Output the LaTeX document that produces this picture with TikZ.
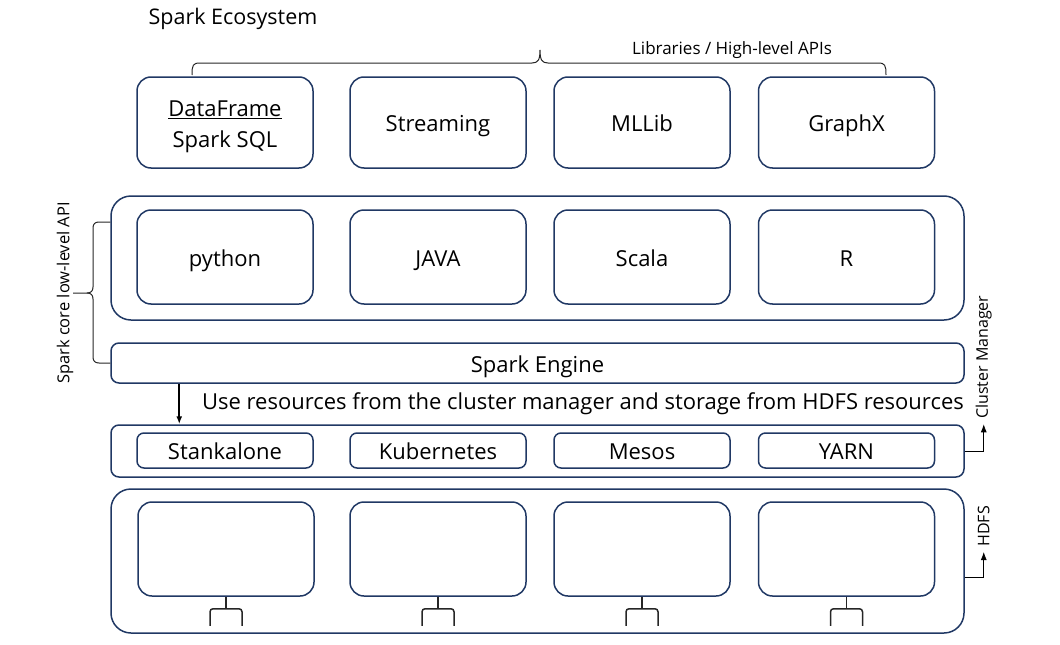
\documentclass[tikz,border=0pt]{standalone}
\usepackage{fontspec}
\setmainfont{Open Sans}
\usetikzlibrary{arrows,arrows.meta,positioning,calc}
\definecolor{boxblue}{HTML}{203864}

\begin{document}
\begin{tikzpicture}[x=1pt, y=-1pt,
    box/.style={draw=boxblue, line width=1.5pt, rectangle, rounded corners=14pt, minimum width=176pt, minimum height=91pt, font=\fontsize{22}{31}\selectfont, align=center, inner sep=0pt},
    word/.style={text height=19pt, text depth=1pt},
    layer/.style={draw=boxblue, line width=1.5pt, rectangle, rounded corners=20pt, minimum width=853pt, inner sep=0pt},
    smallbox/.style={box, word, rounded corners=7pt, minimum height=35pt},
    bracket/.style={draw=black!85, line width=1pt},
    arrowtip/.style={-{Latex[length=8pt, width=6pt]}},
    label/.style={font=\fontsize{16}{19}\selectfont, inner sep=0pt}]
    \useasboundingbox (0,0) rectangle (1060,645);

    \node (title) [font=\fontsize{21.5}{25}\selectfont, inner sep=0pt] at (233,19) {Spark Ecosystem};

    % libraries
    \node (sql) [box] at (225,122.5) {};
    \node (sqltext) [font=\fontsize{22}{31}\selectfont, align=center, inner sep=0pt] at (225,126.5) {\underline{DataFrame}\\Spark SQL};
    \node (streaming) [box, word] at (438,122.5) {Streaming};
    \node (mllib) [box, word] at (642,122.5) {MLLib};
    \node (graphx) [box, word] at (846.5,122.5) {GraphX};
    \draw [bracket] (192,75) .. controls (192,65) and (193,63) .. (200,63) -- (532,63) .. controls (538,63) and (540,60) .. (540,50)
        .. controls (540,60) and (542,63) .. (548,63) -- (878,63) .. controls (885,63) and (886,65) .. (886,75);
    \node (libs) [label, font=\fontsize{17}{20}\selectfont] at (732,50) {Libraries / High-level APIs};

    % core
    \node (core) [layer, minimum height=124pt] at (537.5,258) {};
    \node (python) [box, word, minimum height=94pt] at (225,257) {python};
    \node (java) [box, word, minimum height=94pt] at (438,257) {JAVA};
    \node (scala) [box, word, minimum height=94pt] at (642,257) {Scala};
    \node (r) [box, word, minimum height=94pt] at (846.5,257) {R};
    \node (engine) [layer, word, rounded corners=8pt, minimum height=40pt, font=\fontsize{22}{26}\selectfont] at (537.5,363) {Spark Engine};
    \draw [bracket] (core.west |- 0,222) -- (99,222) .. controls (95,222) and (93,224) .. (93,228) -- (93,287) .. controls (93,291) and (91,293) .. (87,293) -- (73,293);
    \draw [bracket] (engine.west) -- (99,363) .. controls (95,363) and (93,361) .. (93,357) -- (93,299) .. controls (93,295) and (91,293) .. (87,293);
    \node (lowlevel) [label, rotate=90, font=\fontsize{16.5}{19}\selectfont] at (65,293) {Spark core low-level API};

    % cluster manager
    \node (use) [font=\fontsize{22}{26}\selectfont, inner sep=0pt] at (583,404) {Use resources from the cluster manager and storage from HDFS resources};
    \node (cluster) [layer, rounded corners=8pt, minimum height=52pt] at (537.5,451) {};
    \node (standalone) [smallbox] at (225,450.5) {Stankalone};
    \node (kubernetes) [smallbox] at (438,450.5) {Kubernetes};
    \node (mesos) [smallbox] at (642,450.5) {Mesos};
    \node (yarn) [smallbox] at (846.5,450.5) {YARN};
    \draw [arrowtip, line width=1.8pt] ([xshift=69pt]engine.south west) -- ([xshift=69pt]cluster.north west);
    \draw [arrowtip, line width=0.8pt] (cluster.east) -- ++(19,0) -- ([xshift=19pt]cluster.north east) node (cm) [label, rotate=90, anchor=west, xshift=5pt] {Cluster Manager};

    % hdfs
    \node (hdfs) [layer, minimum height=144pt] at (537.5,561) {};
    \foreach \name/\x in {hdfsa/226, hdfsb/438, hdfsc/642, hdfsd/846.5} {
        \node (\name) [box, minimum height=94pt] at (\x,549) {};
        \draw [bracket, line width=1.5pt] (\name.south) -- ++(0,12);
        \draw [bracket, line width=1.5pt, rounded corners=3pt] ([xshift=-16pt,yshift=-29pt]\name.south) -- ++(0,-17) -- ++(32,0) -- ++(0,17);
    }
    \draw [arrowtip, line width=0.8pt] ([yshift=-16pt]hdfs.east) -- ++(19,0) -- ([xshift=19pt,yshift=9pt]hdfs.east) node (hdfslabel) [label, rotate=90, anchor=west, xshift=5pt] {HDFS};
\end{tikzpicture}
\end{document}
